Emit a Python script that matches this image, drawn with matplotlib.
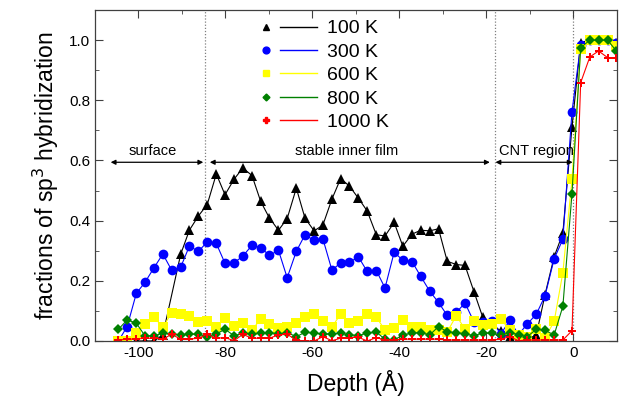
import matplotlib
matplotlib.use("Agg")
import matplotlib.pyplot as plt
from matplotlib.lines import Line2D
from matplotlib.legend_handler import HandlerBase
from matplotlib.ticker import MultipleLocator

plt.rcParams['font.family'] = ['Liberation Sans', 'DejaVu Sans']
plt.rcParams['axes.unicode_minus'] = False

# Depth of each bin (Angstrom)
depth = [-104.6, -102.6, -100.5, -98.5, -96.4, -94.4, -92.4, -90.3, -88.3, -86.2,
         -84.2, -82.1, -80.1, -78.0, -76.0, -73.9, -71.9, -69.9, -67.8, -65.8,
         -63.7, -61.7, -59.6, -57.6, -55.5, -53.5, -51.5, -49.4, -47.4, -45.3,
         -43.3, -41.2, -39.2, -37.1, -35.1, -33.0, -31.0, -29.0, -26.9, -24.9,
         -22.8, -20.8, -18.7, -16.7, -14.6, -12.6, -10.6, -8.5, -6.5, -4.4,
         -2.4, -0.3, 1.7, 3.8, 5.8, 7.9, 9.9]

# 100 K series has no bins 0, 1 and 6
depth_100 = [-100.5, -98.5, -96.4, -94.4, -90.3, -88.3, -86.2,
             -84.2, -82.1, -80.1, -78.0, -76.0, -73.9, -71.9, -69.9, -67.8, -65.8,
             -63.7, -61.7, -59.6, -57.6, -55.5, -53.5, -51.5, -49.4, -47.4, -45.3,
             -43.3, -41.2, -39.2, -37.1, -35.1, -33.0, -31.0, -29.0, -26.9, -24.9,
             -22.8, -20.8, -18.7, -16.7, -14.6, -12.6, -10.6, -8.5, -6.5, -4.4,
             -2.4, -0.3, 1.7, 3.8, 5.8, 7.9, 9.9]
sp3_100 = [0.0, 0.0, 0.0, 0.02, 0.288, 0.368, 0.416,
           0.453, 0.555, 0.486, 0.538, 0.575, 0.550, 0.464, 0.409, 0.368, 0.407,
           0.508, 0.408, 0.366, 0.385, 0.472, 0.540, 0.515, 0.474, 0.432, 0.353,
           0.349, 0.394, 0.315, 0.355, 0.368, 0.366, 0.373, 0.265, 0.254, 0.251,
           0.162, 0.078, 0.058, 0.032, 0.012, 0.0, 0.005, 0.02, 0.154, 0.28,
           0.358, 0.712, 0.992, 1.0, 1.0, 1.0, 0.99]

sp3_300 = [0.0, 0.048, 0.158, 0.195, 0.244, 0.289, 0.236, 0.245, 0.315, 0.298,
           0.329, 0.324, 0.258, 0.26, 0.282, 0.318, 0.310, 0.285, 0.301, 0.21,
           0.298, 0.353, 0.334, 0.34, 0.235, 0.26, 0.262, 0.279, 0.231, 0.234,
           0.176, 0.295, 0.268, 0.264, 0.215, 0.165, 0.128, 0.085, 0.095, 0.126,
           0.062, 0.064, 0.066, 0.023, 0.068, 0.021, 0.056, 0.089, 0.15, 0.273,
           0.338, 0.762, 0.985, 1.0, 1.0, 1.0, 0.99]

sp3_600 = [0.0, 0.0, 0.028, 0.056, 0.079, 0.045, 0.093, 0.088, 0.082, 0.064,
           0.065, 0.048, 0.075, 0.05, 0.059, 0.037, 0.072, 0.057, 0.042, 0.048,
           0.059, 0.081, 0.089, 0.067, 0.047, 0.089, 0.06, 0.067, 0.088, 0.078,
           0.037, 0.042, 0.069, 0.048, 0.045, 0.038, 0.035, 0.03, 0.084, 0.039,
           0.066, 0.053, 0.055, 0.072, 0.037, 0.02, 0.012, 0.04, 0.01, 0.065,
           0.227, 0.537, 0.97, 1.0, 1.0, 1.0, 0.981]

sp3_800 = [0.039, 0.07, 0.059, 0.017, 0.017, 0.026, 0.022, 0.02, 0.023, 0.022,
           0.014, 0.023, 0.039, 0.017, 0.026, 0.023, 0.026, 0.028, 0.023, 0.028,
           0.014, 0.029, 0.026, 0.023, 0.023, 0.026, 0.02, 0.018, 0.026, 0.029,
           0.006, 0.003, 0.02, 0.026, 0.028, 0.02, 0.048, 0.03, 0.028, 0.023,
           0.018, 0.026, 0.026, 0.019, 0.028, 0.021, 0.014, 0.039, 0.035, 0.02,
           0.115, 0.49, 0.975, 1.0, 1.0, 1.0, 0.964]

sp3_1000 = [0.003, 0.006, 0.006, 0.009, 0.009, 0.006, 0.022, 0.006, 0.006, 0.009,
            0.022, 0.009, 0.011, 0.001, 0.022, 0.009, 0.009, 0.009, 0.02, 0.022,
            0.003, 0.0, 0.0, 0.014, 0.001, 0.009, 0.011, 0.012, 0.0, 0.011,
            0.003, 0.003, 0.006, 0.006, 0.006, 0.006, 0.006, 0.003, 0.003, 0.003,
            0.003, 0.003, 0.003, 0.006, 0.014, 0.001, 0.003, 0.003, 0.003, 0.003,
            0.003, 0.034, 0.859, 0.944, 0.964, 0.942, 0.942]

labels = ['100 K', '300 K', '600 K', '800 K', '1000 K']
colors = ['#000000', '#0000ff', '#ffff00', '#008000', '#ff0000']
markers = ['^', 'o', 's', 'D', 'P']
msizes = [7, 7, 6.5, 5, 6]

boundaries = [-84.7, -17.9, 0.0]
regions = [("surface", -106.4, -85.1, -96.7),
           ("stable inner film", -83.6, -19.2, -52.1),
           ("CNT region", -17.9, -0.15, -8.5)]


class MarkerThenLine(HandlerBase):
    def create_artists(self, legend, orig_handle, xdescent, ydescent,
                       width, height, fontsize, trans):
        y = height / 2.0 - ydescent
        m = Line2D([0.12 * width - xdescent], [y], marker=orig_handle.get_marker(),
                   markersize=orig_handle.get_markersize() * 0.7,
                   color=orig_handle.get_color(), linestyle='none', transform=trans)
        l = Line2D([0.36 * width - xdescent, width - xdescent], [y, y],
                   color=orig_handle.get_color(), lw=1.0, transform=trans)
        return [m, l]


fig = plt.figure(figsize=(6.23, 4.03), dpi=100)
ax = fig.add_axes([0.1525, 0.154, 0.8375, 0.821])

series = [(depth_100, sp3_100), (depth, sp3_300), (depth, sp3_600),
          (depth, sp3_800), (depth, sp3_1000)]
handles = []
for (xs, ys), lab, c, mk, ms in zip(series, labels, colors, markers, msizes):
    h, = ax.plot(xs, ys, color=c, marker=mk, markersize=ms, lw=0.8,
                 markeredgewidth=0, label=lab)
    handles.append(h)

for b in boundaries:
    ax.axvline(b, color='#808080', lw=0.9, ls=(0, (1, 1.5)), zorder=0)

for name, x0, x1, xt in regions:
    ax.annotate('', xy=(x0, 0.594), xytext=(x1, 0.594),
                arrowprops=dict(arrowstyle='<|-|>', color='black', lw=0.9,
                                mutation_scale=7, shrinkA=0, shrinkB=0))
    ax.text(xt, 0.608, name, ha='center', va='bottom', fontsize=10.5)

ax.set_xlim(-110, 10)
ax.set_ylim(0, 1.1)
ax.xaxis.set_major_locator(MultipleLocator(20))
ax.xaxis.set_minor_locator(MultipleLocator(10))
ax.yaxis.set_major_locator(MultipleLocator(0.2))
ax.yaxis.set_minor_locator(MultipleLocator(0.1))
ax.yaxis.set_major_formatter(matplotlib.ticker.FormatStrFormatter('%.1f'))
ax.tick_params(which='both', direction='in', top=True, right=True, labelsize=11,
               color='#404040')
ax.tick_params(which='major', length=6)
ax.tick_params(which='minor', length=3)
for sp in ax.spines.values():
    sp.set_color('#404040')
    sp.set_linewidth(0.9)

ax.set_xlabel('Depth (Å)', fontsize=16.5, labelpad=7)
ax.set_ylabel('fractions of sp$^3$ hybridization', fontsize=16.5, labelpad=6)

leg = ax.legend(handles=handles, handler_map={Line2D: MarkerThenLine()},
                loc='upper left', bbox_to_anchor=(0.295, 1.0), frameon=False,
                fontsize=14, handlelength=3.0, handletextpad=0.5,
                labelspacing=0.3, borderaxespad=0.1)

fig.savefig('out.png', dpi=100)
